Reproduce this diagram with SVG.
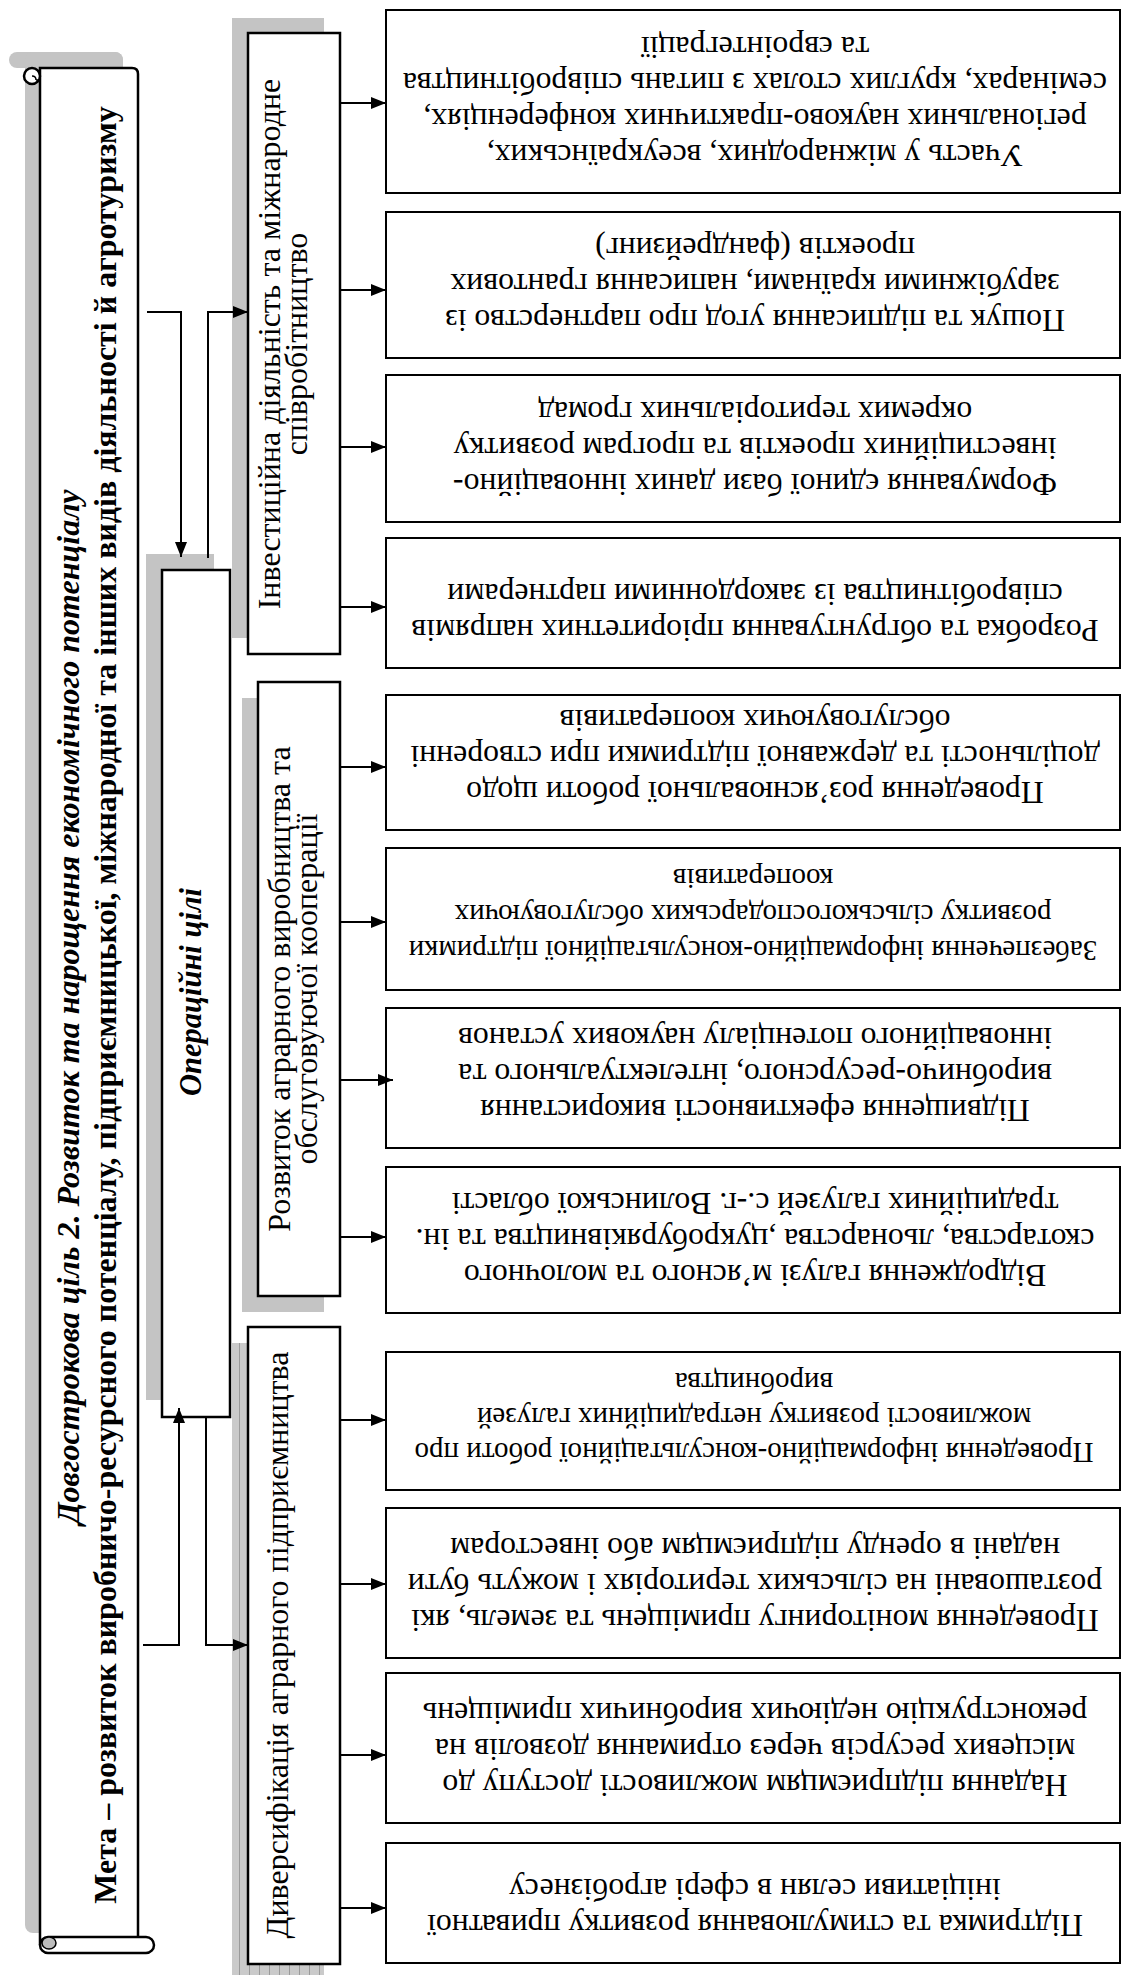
<svg xmlns="http://www.w3.org/2000/svg" width="1122" height="1975" viewBox="0 0 1122 1975">
<defs>
<marker id="ah" markerUnits="userSpaceOnUse" markerWidth="16" markerHeight="14" refX="15" refY="7" orient="auto">
<path d="M0,1 L15,7 L0,13 z" fill="#000"/>
</marker>
<pattern id="hatch" patternUnits="userSpaceOnUse" width="10" height="10">
<rect width="10" height="10" fill="#cacaca"/>
<line x1="9.5" y1="0" x2="9.5" y2="10" stroke="#9a9a9a" stroke-width="1"/>
</pattern>
<style>
.box{fill:#fff;stroke:#000;stroke-width:2.5}
.rbox{fill:#fff;stroke:#000;stroke-width:2}
.shadow{fill:#c4c4c4}
.conn{fill:none;stroke:#000;stroke-width:2}
.rt{font-family:"Liberation Serif","Times New Roman",serif;font-size:31.8px;fill:#000;text-anchor:middle}
.rs{font-size:29px}
.mt{font-family:"Liberation Serif","Times New Roman",serif;font-size:32px;fill:#000;text-anchor:middle}
.op{font-family:"Liberation Serif","Times New Roman",serif;font-size:30.5px;font-weight:bold;font-style:italic;fill:#000;text-anchor:middle}
.s1{font-family:"Liberation Serif","Times New Roman",serif;font-size:32px;font-weight:bold;font-style:italic;fill:#000;text-anchor:middle}
.s2{font-family:"Liberation Serif","Times New Roman",serif;font-size:32px;font-weight:bold;fill:#000;text-anchor:middle}
</style>
</defs>

<!-- Scroll (goal) -->
<g id="goal">
<rect class="shadow" x="9" y="52" width="114" height="16" rx="8"/>
<rect class="shadow" x="25" y="52" width="98" height="1881" rx="8"/>
<path d="M40,1945 V68 H132 Q138,68 138,74 V1937" fill="#fff" stroke="#000" stroke-width="2.5"/>
<circle cx="32" cy="76" r="8" fill="#fff" stroke="#000" stroke-width="2.5"/>
<path d="M32,76 Q36,76 36,80 M40,80 H36" fill="none" stroke="#000" stroke-width="1.5"/>
<rect x="40" y="1937" width="114" height="16" rx="8" fill="#fff" stroke="#000" stroke-width="2.5"/>
<ellipse cx="49" cy="1943" rx="7" ry="6" fill="#bdbdbd" stroke="#000" stroke-width="1.5"/>
<text class="s1" transform="translate(79,1007) rotate(-90)">Довгострокова ціль 2. Розвиток та нарощення економічного потенціалу</text>
<text class="s2" transform="translate(116,1005) rotate(-90)">Мета – розвиток виробничо-ресурсного потенціалу, підприємницької, міжнародної та інших видів діяльності й агротуризму</text>
</g>

<!-- Operational goals -->
<g id="operational">
<rect class="shadow" x="146" y="554" width="68" height="846"/>
<rect class="box" x="162" y="570" width="68" height="847"/>
<text class="op" transform="translate(201,992) rotate(-90)">Операційні цілі</text>
</g>

<!-- Middle category boxes -->
<g id="cat-invest">
<rect class="shadow" x="232" y="18" width="92" height="620"/>
<rect class="box" x="248" y="33" width="92" height="621"/>
<text class="mt" transform="translate(280,344) rotate(-90)">Інвестиційна діяльність та міжнародне</text>
<text class="mt" transform="translate(307,344) rotate(-90)">співробітництво</text>
</g>
<g id="cat-agro">
<rect class="shadow" x="242" y="698" width="82" height="614"/>
<rect class="box" x="258" y="682" width="82" height="614"/>
<text class="mt" transform="translate(290,989) rotate(-90)">Розвиток аграрного виробництва та</text>
<text class="mt" transform="translate(317,989) rotate(-90)">обслуговуючої кооперації</text>
</g>
<g id="cat-divers">
<rect x="232" y="1343" width="92" height="640" fill="url(#hatch)"/>
<rect class="box" x="248" y="1327" width="92" height="637"/>
<text class="mt" transform="translate(288,1645) rotate(-90)">Диверсифікація аграрного підприємництва</text>
</g>

<!-- Right boxes -->
<g id="boxA">
<rect class="rbox" x="386" y="10" width="734" height="183"/>
<text class="rt" transform="translate(755,145) rotate(180)">Участь у міжнародних, всеукраїнських,</text>
<text class="rt" transform="translate(755,109) rotate(180)">регіональних науково-практичних конференціях,</text>
<text class="rt" transform="translate(755,73) rotate(180)">семінарах, круглих столах з питань співробітництва</text>
<text class="rt" transform="translate(755,37) rotate(180)">та євроінтеграції</text>
</g>
<g id="boxB">
<rect class="rbox" x="386" y="212" width="734" height="146"/>
<text class="rt" transform="translate(755,310) rotate(180)">Пошук та підписання угод про партнерство із</text>
<text class="rt" transform="translate(755,274) rotate(180)">зарубіжними країнами, написання грантових</text>
<text class="rt" transform="translate(755,238) rotate(180)">проектів (фандрейзинг)</text>
</g>
<g id="boxC">
<rect class="rbox" x="386" y="375" width="734" height="147"/>
<text class="rt" transform="translate(755,474) rotate(180)">Формування єдиної бази даних інноваційно-</text>
<text class="rt" transform="translate(755,438) rotate(180)">інвестиційних проектів та програм розвитку</text>
<text class="rt" transform="translate(755,402) rotate(180)">окремих територіальних громад</text>
</g>
<g id="boxD">
<rect class="rbox" x="386" y="538" width="734" height="130"/>
<text class="rt" transform="translate(755,620) rotate(180)">Розробка та обгрунтування пріоритетних напрямів</text>
<text class="rt" transform="translate(755,584) rotate(180)">співробітництва із закордонними партнерами</text>
</g>
<g id="boxE">
<rect class="rbox" x="386" y="695" width="734" height="135"/>
<text class="rt" transform="translate(755,782) rotate(180)">Проведення роз’яснювальної роботи щодо</text>
<text class="rt" transform="translate(755,746) rotate(180)">доцільності та державної підтримки при створенні</text>
<text class="rt" transform="translate(755,710) rotate(180)">обслуговуючих кооперативів</text>
</g>
<g id="boxF">
<rect class="rbox" x="386" y="848" width="734" height="142"/>
<text class="rt rs" transform="translate(753,941) rotate(180)">Забезпечення інформаційно-консультаційної підтримки</text>
<text class="rt rs" transform="translate(753,905) rotate(180)">розвитку сільськогосподарських обслуговуючих</text>
<text class="rt rs" transform="translate(753,869) rotate(180)">кооперативів</text>
</g>
<g id="boxG">
<rect class="rbox" x="386" y="1008" width="734" height="140"/>
<text class="rt" transform="translate(755,1100) rotate(180)">Підвищення ефективності використання</text>
<text class="rt" transform="translate(755,1064) rotate(180)">виробничо-ресурсного, інтелектуального та</text>
<text class="rt" transform="translate(755,1028) rotate(180)">інноваційного потенціалу наукових установ</text>
</g>
<g id="boxH">
<rect class="rbox" x="386" y="1167" width="734" height="146"/>
<text class="rt" transform="translate(755,1265) rotate(180)">Відродження галузі м’ясного та молочного</text>
<text class="rt" transform="translate(755,1229) rotate(180)">скотарства, льонарства ,цукробуряківництва та ін.</text>
<text class="rt" transform="translate(755,1193) rotate(180)">традиційних галузей с.-г. Волинської області</text>
</g>
<g id="boxI">
<rect class="rbox" x="386" y="1352" width="734" height="138"/>
<text class="rt rs" transform="translate(754,1443) rotate(180)">Проведення інформаційно-консультаційної роботи про</text>
<text class="rt rs" transform="translate(754,1408) rotate(180)">можливості розвитку нетрадиційних галузей</text>
<text class="rt rs" transform="translate(754,1373) rotate(180)">виробництва</text>
</g>
<g id="boxJ">
<rect class="rbox" x="386" y="1508" width="734" height="150"/>
<text class="rt" transform="translate(755,1610) rotate(180)">Проведення моніторингу приміщень та земель, які</text>
<text class="rt" transform="translate(755,1574) rotate(180)">розташовані на сільських територіях і можуть бути</text>
<text class="rt" transform="translate(755,1538) rotate(180)">надані в оренду підприємцям або інвесторам</text>
</g>
<g id="boxK">
<rect class="rbox" x="386" y="1673" width="734" height="150"/>
<text class="rt" transform="translate(755,1775) rotate(180)">Надання підприємцям можливості доступу до</text>
<text class="rt" transform="translate(755,1739) rotate(180)">місцевих ресурсів через отримання дозволів на</text>
<text class="rt" transform="translate(755,1703) rotate(180)">реконструкцію недіючих виробничих приміщень</text>
</g>
<g id="boxL">
<rect class="rbox" x="386" y="1843" width="734" height="120"/>
<text class="rt" transform="translate(755,1915) rotate(180)">Підтримка та стимулювання розвитку приватної</text>
<text class="rt" transform="translate(755,1879) rotate(180)">ініціативи селян в сфері агробізнесу</text>
</g>

<!-- Connectors -->
<g id="connectors">
<path class="conn" d="M147,312 H181 V557" marker-end="url(#ah)"/>
<path class="conn" d="M208,558 V312 H248" marker-end="url(#ah)"/>
<path class="conn" d="M143,1645 H179 V1408" marker-end="url(#ah)"/>
<path class="conn" d="M206,1417 V1645 H248" marker-end="url(#ah)"/>
<path class="conn" d="M340,103 H386" marker-end="url(#ah)"/>
<path class="conn" d="M340,290 H386" marker-end="url(#ah)"/>
<path class="conn" d="M340,447 H386" marker-end="url(#ah)"/>
<path class="conn" d="M340,607 H386" marker-end="url(#ah)"/>
<path class="conn" d="M340,767 H386" marker-end="url(#ah)"/>
<path class="conn" d="M340,922 H386" marker-end="url(#ah)"/>
<path class="conn" d="M340,1080 H393" marker-end="url(#ah)"/>
<path class="conn" d="M340,1237 H386" marker-end="url(#ah)"/>
<path class="conn" d="M340,1420 H386" marker-end="url(#ah)"/>
<path class="conn" d="M340,1584 H386" marker-end="url(#ah)"/>
<path class="conn" d="M340,1755 H386" marker-end="url(#ah)"/>
<path class="conn" d="M340,1908 H386" marker-end="url(#ah)"/>
</g>
</svg>
